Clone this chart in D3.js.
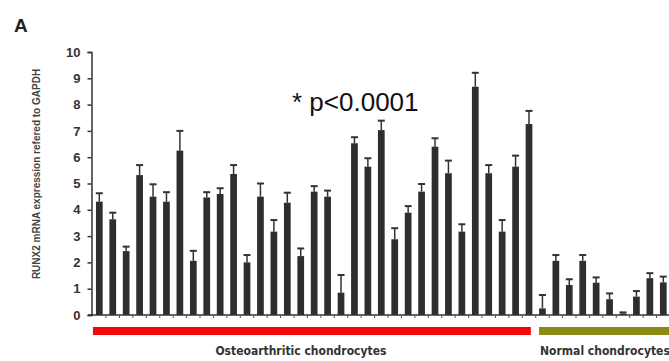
<!DOCTYPE html>
<html>
<head>
<meta charset="utf-8">
<script src="https://cdn.jsdelivr.net/npm/d3@7"></script>
<style>
    body { margin: 0; background: #fff; }
    svg { display: block; }
</style>
</head>
<body>
<div id="chart"></div>
<script>
"use strict";

// RUNX2 expression per sample (bar heights)
var oaValues = [4.31, 3.64, 2.43, 5.32, 4.50, 4.31, 6.25, 2.06, 4.47, 4.60, 5.36,
    2.00, 4.50, 3.17, 4.27, 2.24, 4.69, 4.50, 0.85, 6.53, 5.64, 7.03, 2.88, 3.89,
    4.69, 6.40, 5.39, 3.17, 8.68, 5.39, 3.17, 5.64, 7.26];
var oaErrors = [0.32, 0.25, 0.17, 0.38, 0.47, 0.36, 0.75, 0.38, 0.20, 0.22, 0.34,
    0.28, 0.50, 0.44, 0.38, 0.29, 0.21, 0.23, 0.67, 0.23, 0.32, 0.36, 0.42, 0.25,
    0.29, 0.32, 0.48, 0.28, 0.53, 0.31, 0.44, 0.42, 0.50];
var normalValues = [0.25, 2.06, 1.14, 2.06, 1.23, 0.60, 0.06, 0.70, 1.40, 1.24];
var normalErrors = [0.51, 0.22, 0.22, 0.22, 0.20, 0.22, 0.04, 0.21, 0.19, 0.22];

var yTicks = [0, 1, 2, 3, 4, 5, 6, 7, 8, 9, 10];
var groups = ["Osteoarthritic chondrocytes", "Normal chondrocytes"];
var groupColors = ["#f00a0a", "#8c8a14"];

var width = 669, height = 361;

// one record per bar
var data = [];
oaValues.forEach(function (v, i) { data.push({ value: v, err: oaErrors[i], group: 0 }); });
normalValues.forEach(function (v, i) { data.push({ value: v, err: normalErrors[i], group: 1 }); });

var svg = d3.select("#chart").append("svg")
    .attr("width", width)
    .attr("height", height);

var x = d3.scaleBand()
    .domain(d3.range(data.length))
    .range([92.6, 670])
    .paddingInner(0.5)
    .paddingOuter(0.25);

var y = d3.scaleLinear()
    .domain([0, 10])
    .range([315, 52]);

// panel letter
svg.append("text")
    .attr("x", 14)
    .attr("y", 32)
    .style("font", "bold 19px Arial, 'Liberation Sans', sans-serif")
    .style("fill", "#222")
    .text("A");

// bars
svg.append("g")
    .selectAll("rect")
    .data(data)
    .enter()
    .append("rect")
    .attr("x", function (d, i) { return x(i); })
    .attr("y", function (d) { return y(d.value); })
    .attr("width", x.bandwidth())
    .attr("height", function (d) { return y(0) - y(d.value); })
    .style("fill", "#2e2e2e");

// error bars (upper only)
var err = svg.append("g")
    .selectAll("g")
    .data(data)
    .enter()
    .append("g")
    .attr("transform", function (d, i) { return "translate(" + (x(i) + x.bandwidth() / 2) + ",0)"; });

err.append("line")
    .attr("y1", function (d) { return y(d.value); })
    .attr("y2", function (d) { return y(d.value + d.err); })
    .style("stroke", "#333")
    .style("stroke-width", 1.5);

err.append("line")
    .attr("x1", -3.5)
    .attr("x2", 3.5)
    .attr("y1", function (d) { return y(d.value + d.err); })
    .attr("y2", function (d) { return y(d.value + d.err); })
    .style("stroke", "#333")
    .style("stroke-width", 2);

// y axis
var yAxis = svg.append("g")
    .attr("transform", "translate(91.5,0)")
    .call(d3.axisLeft(y).tickValues(yTicks).tickSize(4).tickPadding(7).tickFormat(d3.format("d")));

yAxis.select(".domain").style("stroke", "#333").style("stroke-width", 1.5);
yAxis.selectAll(".tick line").style("stroke", "#333").style("stroke-width", 1.5);
yAxis.selectAll(".tick text")
    .style("font", "bold 13px Arial, 'Liberation Sans', sans-serif")
    .style("fill", "#333");

// x axis: baseline with small ticks between bars
var xAxis = svg.append("g")
    .attr("transform", "translate(0," + y(0) + ")");

xAxis.append("line")
    .attr("x1", 88)
    .attr("x2", width)
    .style("stroke", "#333")
    .style("stroke-width", 1.5);

xAxis.selectAll(".xt")
    .data(data)
    .enter()
    .append("line")
    .attr("class", "xt")
    .attr("x1", function (d, i) { return x(i) + x.bandwidth() + x.step() * 0.25; })
    .attr("x2", function (d, i) { return x(i) + x.bandwidth() + x.step() * 0.25; })
    .attr("y1", 0)
    .attr("y2", 3)
    .style("stroke", "#555")
    .style("stroke-width", 1);

// y axis title
svg.append("text")
    .attr("transform", "translate(40,174) rotate(-90)")
    .attr("text-anchor", "middle")
    .style("font", "bold 10px Arial, 'Liberation Sans', sans-serif")
    .style("fill", "#444")
    .text("RUNX2 mRNA expression refered to GAPDH");

// significance note
svg.append("text")
    .attr("x", 292)
    .attr("y", 111)
    .style("font", "26px Arial, 'Liberation Sans', sans-serif")
    .style("fill", "#111")
    .text("* p<0.0001");

// group bands and labels
var oaStart = x(0) - 3,
    oaEnd = x(oaValues.length - 1) + x.bandwidth() - 1.5,
    nStart = x(oaValues.length);

var bands = [
    { x0: oaStart, x1: oaEnd },
    { x0: nStart, x1: width }
];

svg.append("g")
    .selectAll("rect")
    .data(bands)
    .enter()
    .append("rect")
    .attr("x", function (d) { return d.x0; })
    .attr("y", 327)
    .attr("width", function (d) { return d.x1 - d.x0; })
    .attr("height", 8)
    .style("fill", function (d, i) { return groupColors[i]; });

svg.append("text")
    .attr("x", (oaStart + oaEnd) / 2 - 11)
    .attr("y", 355)
    .attr("text-anchor", "middle")
    .style("font", "bold 12px 'Liberation Sans Narrow', 'DejaVu Sans Condensed', sans-serif")
    .style("fill", "#333")
    .text(groups[0]);

svg.append("text")
    .attr("x", nStart + 1)
    .attr("y", 355)
    .style("font", "bold 12px 'Liberation Sans Narrow', 'DejaVu Sans Condensed', sans-serif")
    .style("fill", "#333")
    .text(groups[1]);
</script>
</body>
</html>
